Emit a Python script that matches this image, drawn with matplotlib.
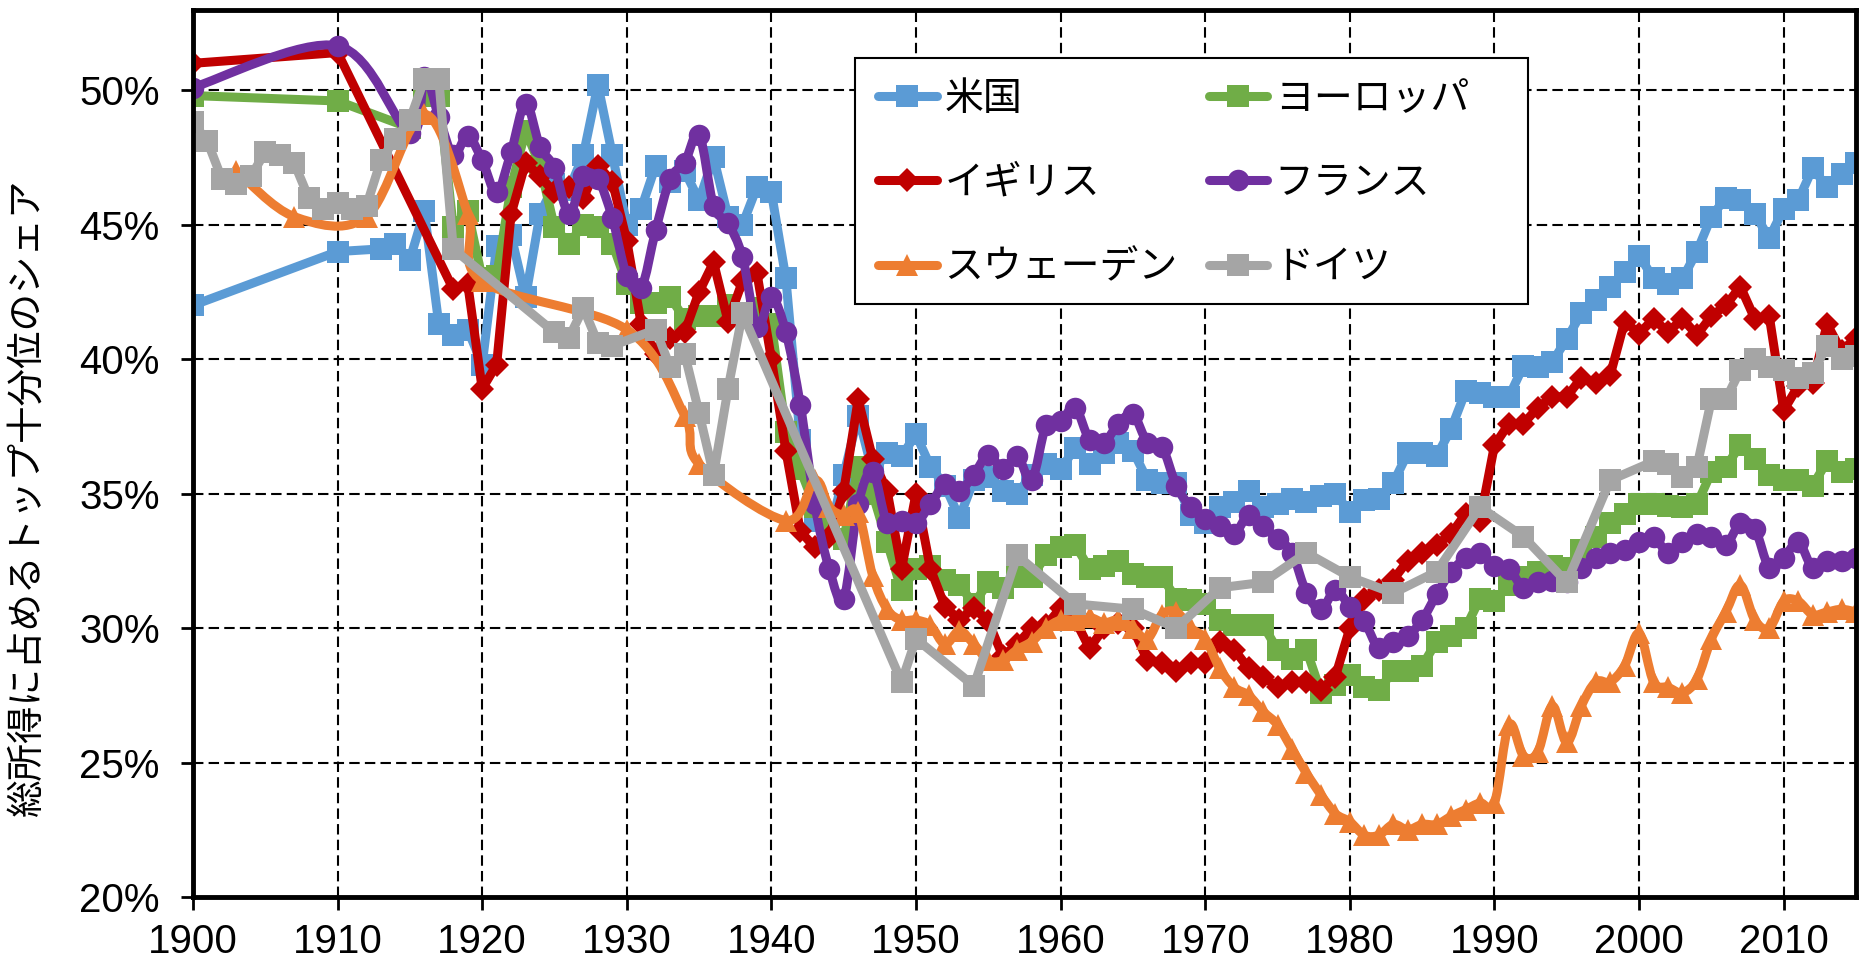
import matplotlib
matplotlib.use("Agg")
import matplotlib.pyplot as plt
from matplotlib.path import Path
from matplotlib.patches import PathPatch, Rectangle
from matplotlib.lines import Line2D
from matplotlib.ticker import PercentFormatter

plt.rcParams['font.family'] = ['Liberation Sans', 'Noto Sans CJK JP', 'DejaVu Sans']

# --- data (top decile share, %) ---
us_years = [1900, 1910] + list(range(1913, 2016))
us_vals = [42.0, 44.0,
           44.1, 44.3, 43.7, 45.5, 41.3, 40.9, 41.1, 39.8,
           44.2, 44.6, 42.3, 45.4, 46.5, 46.3, 47.6, 50.2, 47.6, 45.0,
           45.6, 47.2, 46.6, 47.0, 45.9, 47.5, 45.3, 45.0, 46.4, 46.2,
           43.0, 37.0, 34.0, 33.5, 35.7, 37.9, 35.8, 36.5, 36.4, 37.2,
           36.0, 35.3, 34.1, 35.5, 35.6, 35.1, 35.0, 35.7, 36.1, 35.9,
           36.7, 36.1, 36.5, 36.9, 36.6, 35.5, 35.4, 35.4, 34.2, 33.9,
           34.5, 34.7, 35.1, 34.5, 34.6, 34.8, 34.7, 34.9, 35.0, 34.3,
           34.75, 34.8, 35.4, 36.5, 36.5, 36.4, 37.4, 38.8, 38.75, 38.6,
           38.6, 39.75, 39.7, 39.9, 40.75, 41.7, 42.2, 42.7, 43.25, 43.85,
           43.0, 42.8, 43.0, 44.0, 45.3, 46.0, 45.9, 45.4, 44.5, 45.6,
           45.9, 47.1, 46.4, 46.9, 47.3]

eu_years = [1900, 1910] + list(range(1915, 2016))
eu_vals = [49.8, 49.6,
           48.6, 49.8, 49.8, 44.9, 45.5, 43.0,
           43.1, 46.4, 48.5, 47.2, 44.9, 44.3, 45.0, 44.9, 44.3, 42.8,
           42.1, 42.1, 42.3, 41.5, 41.6, 41.6, 42.0, 41.7, 41.9, 41.3,
           37.3, 35.9, 34.5, 33.8, 33.3, 36.0, 35.0, 33.2, 31.4, 32.2,
           32.3, 31.8, 31.6, 30.9, 31.7, 31.5, 31.9, 31.9, 32.7, 33.0,
           33.1, 32.2, 32.3, 32.5, 32.0, 31.9, 31.9, 31.1, 31.05, 30.9,
           30.3, 30.1, 30.1, 30.1, 29.2, 28.85, 29.2, 27.6, 27.9, 28.25,
           27.8, 27.7, 28.4, 28.4, 28.6, 29.5, 29.7, 30.0, 31.1, 31.0,
           31.6, 31.9, 32.1, 32.3, 32.25, 32.9, 33.4, 33.9, 34.25, 34.6,
           34.6, 34.55, 34.5, 34.6, 35.8, 36.0, 36.8, 36.3, 35.7, 35.5,
           35.5, 35.3, 36.2, 35.8, 35.9]

uk_years = [1900, 1910] + list(range(1918, 2016))
uk_vals = [51.0, 51.4,
           42.6, 42.8, 38.9,
           39.8, 45.4, 47.3, 46.8, 46.2, 46.4, 46.0, 47.2, 46.6, 44.4,
           41.3, 40.2, 40.8, 41.0, 42.5, 43.6, 41.4, 42.9, 43.2, 40.0,
           36.6, 33.6, 33.0, 33.4, 35.1, 38.5, 36.3, 35.1, 32.2, 35.0,
           32.2, 30.8, 30.3, 30.75, 30.25, 28.95, 29.4, 30.0, 30.1, 30.75,
           30.3, 29.25, 30.0, 30.2, 30.0, 28.8, 28.7, 28.4, 28.7, 28.7,
           29.5, 29.2, 28.5, 28.2, 27.8, 28.0, 28.0, 27.7, 28.2, 30.0,
           31.1, 31.4, 31.8, 32.5, 32.8, 33.1, 33.5, 34.25, 34.0, 36.8,
           37.6, 37.6, 38.2, 38.6, 38.6, 39.3, 39.1, 39.4, 41.4, 40.95,
           41.5, 41.0, 41.5, 40.9, 41.6, 42.0, 42.7, 41.5, 41.6, 38.1,
           39.0, 39.1, 41.3, 40.3, 40.8]

fr_years = [1900, 1910] + list(range(1915, 2016))
fr_vals = [50.1, 51.65,
           48.4, 50.5, 49.0, 47.6, 48.3, 47.4,
           46.2, 47.7, 49.5, 47.9, 47.1, 45.4, 46.8, 46.7, 45.25, 43.1,
           42.65, 44.8, 46.7, 47.3, 48.35, 45.7, 45.05, 43.8, 41.2, 42.3,
           41.0, 38.3, 34.6, 32.2, 31.1, 34.6, 35.8, 33.9, 34.0, 33.9,
           34.6, 35.35, 35.1, 35.7, 36.45, 35.9, 36.4, 35.5, 37.55, 37.7,
           38.2, 37.0, 36.9, 37.6, 37.95, 36.9, 36.75, 35.3, 34.5, 34.05,
           33.8, 33.5, 34.2, 33.8, 33.3, 32.8, 31.3, 30.7, 31.4, 30.8,
           30.25, 29.25, 29.5, 29.7, 30.3, 31.25, 32.1, 32.6, 32.8, 32.3,
           32.2, 31.5, 31.7, 31.75, 31.7, 32.25, 32.6, 32.8, 32.9, 33.2,
           33.4, 32.8, 33.2, 33.5, 33.4, 33.1, 33.9, 33.7, 32.25, 32.6,
           33.2, 32.25, 32.5, 32.5, 32.6]

se_years = [1903, 1907, 1912, 1916, 1919, 1920, 1930, 1934, 1935,
            1941, 1943, 1944, 1945, 1946] + list(range(1947, 2016))
se_vals = [47.0, 45.3, 45.3, 49.1, 45.4, 42.9, 41.1, 37.9, 36.1,
           34.0, 35.5, 34.5, 34.2, 34.3,
           31.95, 30.7, 30.3, 30.3,
           30.1, 29.4, 29.9, 29.4, 28.8, 28.8, 29.2, 29.5, 30.0, 30.3,
           30.3, 30.4, 30.2, 30.3, 30.0, 29.6, 30.5, 30.6, 30.0, 29.6,
           28.5, 27.8, 27.5, 26.9, 26.4, 25.5, 24.6, 23.8, 23.1, 22.8,
           22.3, 22.3, 22.7, 22.5, 22.7, 22.7, 23.0, 23.25, 23.5, 23.5,
           26.4, 25.25, 25.4, 27.1, 25.75, 27.1, 28.0, 28.0, 28.6, 29.8,
           28.0, 27.8, 27.6, 28.1, 29.6, 30.6, 31.6, 30.3, 30.0, 31.0,
           31.0, 30.5, 30.6, 30.7, 30.6]

de_years = list(range(1900, 1919)) + [1925, 1926, 1927, 1928, 1929,
            1932, 1933, 1934, 1935, 1936, 1937, 1938, 1949, 1950, 1954,
            1957, 1961, 1965, 1968, 1971, 1974, 1977, 1980, 1983, 1986,
            1989, 1992, 1995, 1998] + list(range(2001, 2016))
de_vals = [48.8, 48.1, 46.7, 46.5, 46.8, 47.7, 47.6, 47.3, 46.0, 45.6,
           45.8, 45.6, 45.7, 47.4, 48.2, 48.9, 50.4, 50.4, 44.1,
           41.0, 40.8, 41.9, 40.6, 40.5,
           41.1, 39.7, 40.2, 38.0, 35.7, 38.9, 41.7, 28.0, 29.6, 27.85,
           32.7, 30.9, 30.7, 30.0, 31.5, 31.7, 32.8, 31.9, 31.3, 32.1,
           34.5, 33.4, 31.7, 35.5,
           36.2, 36.1, 35.6, 36.0, 38.5, 38.5, 39.6, 40.0, 39.7, 39.6,
           39.3, 39.5, 40.5, 40.0, 40.1]

# name, years, values, colour, marker, marker size, smoothed line (as Excel)
series = [
    ("米国", us_years, us_vals, "#5B9BD5", "s", 16, False),
    ("ヨーロッパ", eu_years, eu_vals, "#70AD47", "s", 16, False),
    ("イギリス", uk_years, uk_vals, "#C00000", "D", 12, False),
    ("フランス", fr_years, fr_vals, "#7030A0", "o", 15.5, True),
    ("スウェーデン", se_years, se_vals, "#ED7D31", "^", 16.5, True),
    ("ドイツ", de_years, de_vals, "#A5A5A5", "s", 16, False),
]
LW = 6.5


def smooth_path(xs, ys):
    # Catmull-Rom style Bezier through the data points (Excel "smoothed line")
    pts = list(zip(xs, ys))
    verts = [pts[0]]
    codes = [Path.MOVETO]
    n = len(pts)
    for i in range(n - 1):
        p0 = pts[i - 1] if i > 0 else pts[i]
        p1 = pts[i]
        p2 = pts[i + 1]
        p3 = pts[i + 2] if i + 2 < n else pts[i + 1]
        c1 = (p1[0] + (p2[0] - p0[0]) / 6, p1[1] + (p2[1] - p0[1]) / 6)
        c2 = (p2[0] - (p3[0] - p1[0]) / 6, p2[1] - (p3[1] - p1[1]) / 6)
        verts += [c1, c2, p2]
        codes += [Path.CURVE4] * 3
    return Path(verts, codes)


fig = plt.figure(figsize=(18.59, 9.63), dpi=100)
ax = fig.add_axes([0.1038, 0.0685, 0.8946, 0.9216])

handles = {}
for z, (name, yrs, vals, color, marker, ms, smooth) in enumerate(series):
    ys = [v / 100 for v in vals]
    if smooth:
        ax.add_patch(PathPatch(smooth_path(yrs, ys), facecolor='none',
                               edgecolor=color, linewidth=LW,
                               joinstyle='round', capstyle='round',
                               zorder=2 + z * 0.1))
        ax.plot(yrs, ys, linestyle='none', marker=marker, markersize=ms,
                color=color, markeredgewidth=0, zorder=2 + z * 0.1 + 0.05)
    else:
        ax.plot(yrs, ys, color=color, marker=marker, markersize=ms,
                linewidth=LW, markeredgewidth=0, solid_joinstyle='round',
                zorder=2 + z * 0.1)
    handles[name] = Line2D([], [], color=color, marker=marker, markersize=ms,
                           linewidth=LW, markeredgewidth=0,
                           solid_capstyle='round')

ax.set_xlim(1900, 2015)
ax.set_ylim(0.20, 0.53)
ax.set_xticks(range(1900, 2011, 10))
ax.set_yticks([0.20, 0.25, 0.30, 0.35, 0.40, 0.45, 0.50])
ax.yaxis.set_major_formatter(PercentFormatter(1.0, decimals=0))

ax.set_axisbelow(True)
ax.grid(True, color='black', linestyle=(0, (5, 2.5)), linewidth=1.5)

for sp in ax.spines.values():
    sp.set_linewidth(3.5)
    sp.set_color('black')
    sp.set_zorder(5)

ax.tick_params(axis='both', direction='out', length=9, width=2, labelsize=29)
ax.tick_params(axis='y', pad=15)
ax.tick_params(axis='x', pad=10)

ax.set_ylabel("総所得に占めるトップ十分位のシェア", fontsize=27,
              family=['Noto Sans CJK JP', 'DejaVu Sans'])
ax.yaxis.set_label_coords(-0.088, 0.45)

# legend box (fixed size like the Excel legend)
ax.add_patch(Rectangle((0.398, 0.668), 0.405, 0.277, transform=ax.transAxes,
                       facecolor='white', edgecolor='black', linewidth=1.5,
                       zorder=9))
order = ["米国", "イギリス", "スウェーデン", "ヨーロッパ", "フランス", "ドイツ"]
leg = ax.legend([handles[n] for n in order], order, ncol=2,
                loc='upper left', bbox_to_anchor=(0.398, 0.945),
                borderaxespad=0, fontsize=28, frameon=False,
                handlelength=1.5, handletextpad=0.2, columnspacing=0.8,
                labelspacing=1.24, borderpad=0.6)
leg.set_zorder(10)

fig.savefig("out.png", dpi=100)
